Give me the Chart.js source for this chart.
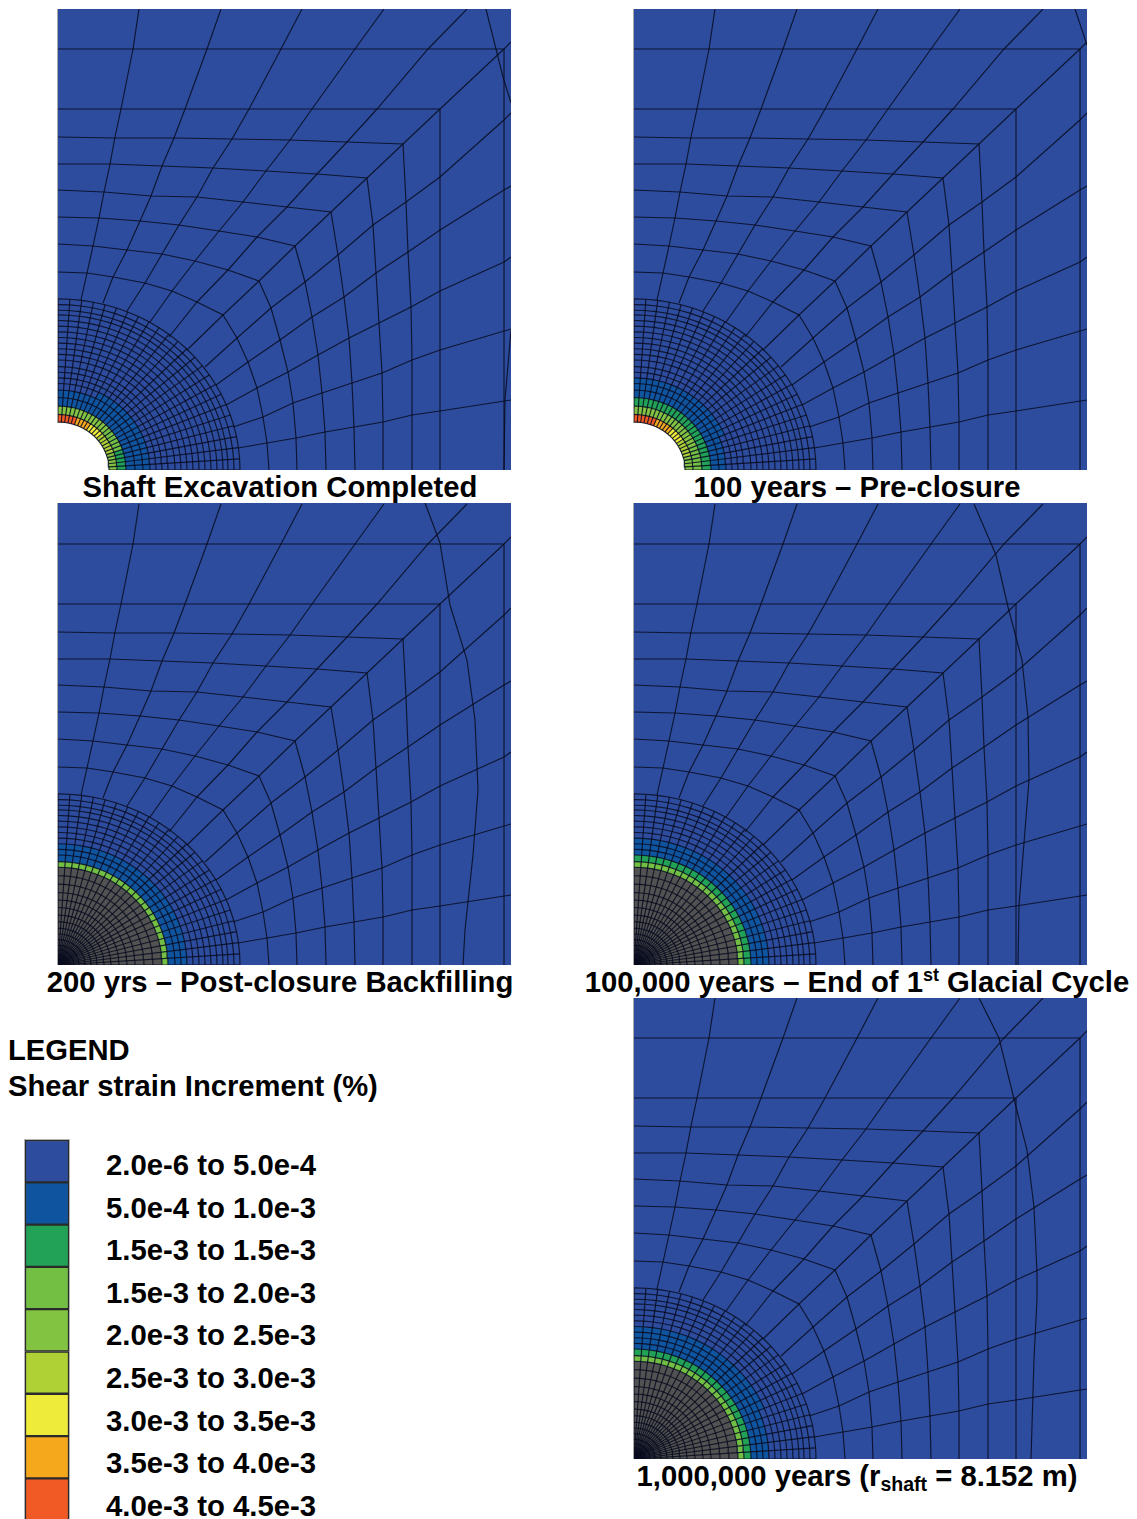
<!DOCTYPE html>
<html>
<head>
<meta charset="utf-8">
<title>Shear strain increment</title>
<script src="https://cdn.jsdelivr.net/npm/chart.js@4"></script>
<style>
    html, body { margin: 0; padding: 0; background: #fff; }
    body { position: relative; width: 1137px; height: 1519px; overflow: hidden; font-family: "Liberation Sans", Arial, sans-serif; font-weight: bold; color: #000; }
    .panel { position: absolute; width: 453px; background: #2d4c9e; border-left: 1px solid #a8a8a8; margin-left: -1px; }
    .panel canvas, #legendBar { display: block; }
    .holeEdge { position: absolute; left: -1px; bottom: 0; width: 1px; height: 47px; background: #fff; }
    .title { position: absolute; white-space: nowrap; font-size: 29.25px; line-height: 32px; transform: translateX(-50%); }
    .title sup { font-size: 18px; line-height: 0; vertical-align: 11px; }
    .title sub { font-size: 19.5px; line-height: 0; vertical-align: -5px; }
    .legendText { position: absolute; left: 8px; white-space: nowrap; font-size: 29.2px; line-height: 34px; }
    .legendLabel { position: absolute; left: 106px; white-space: nowrap; font-size: 29.3px; line-height: 34px; }
    #legendBar { position: absolute; left: 25px; top: 1140px; box-shadow: 0 0 0 1px #b5b5b5; }
</style>
</head>
<body>
<script>
    // legend
    const legendLabels = ["2.0e-6 to 5.0e-4", "5.0e-4 to 1.0e-3", "1.5e-3 to 1.5e-3", "1.5e-3 to 2.0e-3", "2.0e-3 to 2.5e-3", "2.5e-3 to 3.0e-3", "3.0e-3 to 3.5e-3", "3.5e-3 to 4.0e-3", "4.0e-3 to 4.5e-3"];
    const binColors = ["#2d4c9e", "#0f549f", "#21a256", "#72bf44", "#82c341", "#afd136", "#efeb3a", "#f5a81c", "#f15a24"];
    const legendSpans = [1, 1, 1, 1, 1, 1, 1, 1, 1];

    // fine mesh around the shaft, in panel pixels along x; y is squeezed by yRatio
    const yRatio = 0.94;
    const spokeAngles = [0, 3.75, 7.5, 11.25, 15, 18.75, 22.5, 26.25, 30, 33.75, 37.5, 41.25, 45, 48.75, 52.5, 56.25, 60, 63.75, 67.5, 71.25, 75, 78.75, 82.5, 86.25, 90];
    const outerRings = [104, 110, 117, 123, 129, 135, 141, 147, 153, 159, 165, 170, 176, 182];
    const openRings = [51, 59, 68, 77, 85, 92, 98];
    const backfillRings = [3, 7, 11, 16, 21, 27, 33, 39, 46, 53, 61, 69, 77, 86, 95];

    // coarse mesh polylines, [x, y]
    const coarseRings = [
        [[0, 198], [29, 197], [55, 193], [87, 187], [114, 179], [139, 168], [165, 155], [179, 132], [190, 108], [199, 82], [205, 53], [209, 27], [211, 0]],
        [[0, 226], [35, 224], [69, 220], [104, 216], [137, 209], [170, 200], [201, 189], [213, 162], [222, 130], [230, 98], [235, 67], [238, 32], [239, 0]],
        [[0, 253], [41, 252], [82, 249], [121, 245], [161, 239], [199, 233], [237, 224], [247, 188], [254, 153], [260, 115], [264, 77], [267, 38], [268, 0]],
        [[0, 280], [46, 278], [93, 274], [139, 273], [185, 268], [229, 263], [273, 258], [280, 215], [286, 173], [291, 132], [294, 87], [296, 43], [297, 0]],
        [[0, 306], [52, 306], [104, 304], [155, 302], [208, 299], [259, 296], [309, 292], [315, 245], [318, 197], [321, 147], [324, 97], [325, 48], [325, 0]],
        [[0, 333], [57, 332], [116, 332], [174, 331], [232, 330], [289, 328], [345, 326], [348, 268], [350, 218], [353, 163], [354, 110], [354, 55], [354, 0]],
        [[0, 361], [382, 361], [382, 0]],
        [[0, 421], [446, 421], [446, 0]]
    ];
    const coarseSpokes = [
        [[81, 461], [75, 421], [63, 361], [57, 333], [52, 306], [46, 278], [41, 252], [35, 224], [29, 197], [23, 170]],
        [[163, 461], [149, 421], [127, 361], [116, 332], [104, 304], [93, 274], [82, 249], [69, 220], [55, 193], [45, 167]],
        [[244, 461], [223, 421], [191, 361], [174, 331], [155, 302], [139, 273], [121, 245], [104, 216], [87, 187], [69, 159]],
        [[326, 461], [297, 421], [254, 361], [232, 330], [208, 299], [185, 268], [161, 239], [137, 209], [114, 179], [92, 148]],
        [[409, 461], [370, 421], [319, 361], [289, 328], [259, 296], [229, 263], [199, 233], [170, 200], [139, 168], [111, 133]],
        [[453, 428], [446, 421], [382, 361], [345, 326], [309, 292], [273, 258], [237, 224], [201, 189], [165, 155], [129, 120]],
        [[453, 357], [446, 350], [382, 293], [348, 268], [315, 245], [280, 215], [247, 188], [213, 162], [179, 132], [147, 103]],
        [[453, 284], [446, 280], [382, 240], [350, 218], [318, 197], [286, 173], [254, 153], [222, 130], [190, 108], [158, 85]],
        [[453, 213], [446, 208], [382, 179], [353, 163], [321, 147], [291, 132], [260, 115], [230, 98], [199, 82], [168, 65]],
        [[453, 141], [382, 120], [354, 110], [324, 97], [294, 87], [264, 77], [235, 67], [205, 53], [175, 43]],
        [[453, 70], [382, 59], [354, 55], [325, 48], [296, 43], [267, 38], [238, 32], [209, 27], [180, 22]]
    ];

    // the line that moves from stage to stage
    const excavationBends = [[[428, 461], [445, 393], [453, 367]], [[453, 140], [447, 70], [446, 0]]];
    const preClosureBends = [[[441, 461], [453, 425]]];
    const backfillBends = [[[367, 462], [382, 422], [392, 360], [409, 305], [417, 245], [420, 175], [415, 110], [407, 35], [405, 0]]];
    const glacialBends = [[[340, 461], [362, 410], [374, 358], [388, 305], [394, 248], [395, 185], [390, 122], [385, 60], [384, 0]]];
    const millionBends = [[[345, 461], [365, 421], [380, 360], [393, 309], [400, 252], [403, 186], [403, 160], [400, 100], [397, 0]]];

    // colour bin of each cell, ring by ring from the inside, spoke 0 on the x axis
    const excavationBins = [
        [4, 4, 4, 4, 4, 5, 5, 5, 5, 5, 5, 6, 6, 6, 6, 7, 7, 7, 7, 8, 8, 8, 8, 8],
        [2, 2, 2, 2, 2, 3, 3, 3, 3, 3, 3, 4, 4, 4, 4, 4, 4, 4, 4, 4, 4, 4, 4, 4],
        [1, 1, 1, 1, 1, 1, 1, 1, 1, 1, 1, 1, 1, 1, 1, 1, 1, 1, 1, 1, 1, 1, 1, 1],
        [1, 1, 1, 1, 1, 1, 1, 1, 1, 1, 1, 1, 1, 1, 1, 1, 1, 1, 1, 1, 1, 1, 1, 1],
        [1, 1, 1, 1, 1, 1, 1, 1, 1, 1, 1, 1, 1, 1, 1, 1, 1, 0, 0, 0, 0, 0, 0, 0]
    ];
    const preClosureBins = [
        [4, 4, 4, 4, 5, 5, 5, 5, 5, 6, 6, 6, 6, 7, 7, 7, 7, 7, 8, 8, 8, 8, 8, 8],
        [3, 3, 3, 3, 3, 3, 4, 4, 4, 4, 4, 4, 4, 4, 4, 4, 4, 4, 4, 4, 4, 4, 4, 4],
        [2, 2, 2, 2, 2, 2, 2, 2, 2, 2, 2, 2, 2, 2, 2, 2, 2, 2, 2, 2, 2, 2, 2, 2],
        [1, 1, 1, 1, 1, 1, 1, 1, 1, 1, 1, 1, 1, 1, 1, 1, 1, 1, 1, 1, 1, 1, 1, 1],
        [1, 1, 1, 1, 1, 1, 1, 1, 1, 1, 1, 1, 1, 1, 1, 1, 1, 1, 1, 1, 1, 1, 1, 1],
        [0, 0, 0, 0, 0, 0, 1, 1, 1, 1, 1, 1, 1, 1, 1, 1, 1, 1, 1, 1, 1, 1, 1, 1]
    ];
    const backfillBins = [
        [3, 3, 3, 3, 3, 3, 3, 3, 3, 3, 3, 3, 3, 3, 3, 3, 3, 3, 3, 3, 3, 3, 3, 3],
        [1, 1, 1, 1, 1, 1, 1, 1, 1, 1, 1, 1, 1, 1, 1, 1, 1, 1, 1, 1, 1, 1, 1, 1],
        [1, 1, 1, 1, 1, 1, 1, 1, 1, 1, 1, 1, 1, 1, 1, 1, 1, 1, 1, 1, 1, 1, 1, 1],
        [1, 1, 1, 1, 1, 1, 1, 1, 1, 1, 1, 1, 1, 1, 1, 1, 1, 1, 1, 1, 1, 1, 1, 1]
    ];
    const glacialBins = [
        [3, 3, 3, 3, 3, 3, 3, 3, 3, 3, 3, 3, 3, 3, 3, 3, 3, 3, 3, 3, 3, 3, 3, 3],
        [2, 2, 2, 2, 2, 2, 2, 2, 2, 2, 2, 2, 2, 2, 2, 2, 2, 2, 2, 2, 2, 2, 2, 2],
        [1, 1, 1, 1, 1, 1, 1, 1, 1, 1, 1, 1, 1, 1, 1, 1, 1, 1, 1, 1, 1, 1, 1, 1],
        [1, 1, 1, 1, 1, 1, 1, 1, 1, 1, 1, 1, 1, 1, 1, 1, 1, 1, 1, 1, 1, 1, 1, 1],
        [1, 1, 1, 1, 1, 1, 1, 1, 1, 1, 1, 1, 1, 1, 1, 1, 1, 1, 1, 1, 1, 1, 1, 1]
    ];
    const millionBins = [
        [3, 3, 3, 3, 3, 3, 3, 3, 3, 3, 3, 3, 3, 3, 3, 3, 3, 3, 3, 3, 3, 3, 3, 3],
        [2, 2, 2, 2, 2, 2, 2, 2, 2, 2, 2, 2, 2, 2, 2, 2, 2, 2, 2, 2, 2, 2, 2, 2],
        [1, 1, 1, 1, 1, 1, 1, 1, 1, 1, 1, 1, 1, 1, 1, 1, 1, 1, 1, 1, 1, 1, 1, 1],
        [1, 1, 1, 1, 1, 1, 1, 1, 1, 1, 1, 1, 1, 1, 1, 1, 1, 1, 1, 1, 1, 1, 1, 1],
        [1, 1, 1, 1, 1, 1, 1, 1, 1, 1, 1, 1, 1, 1, 1, 1, 1, 1, 1, 1, 1, 1, 1, 1],
        [0, 0, 0, 0, 0, 0, 1, 1, 1, 1, 1, 1, 1, 1, 1, 1, 1, 1, 1, 1, 1, 1, 1, 1]
    ];

    const panels = [
        { left: 58, top: 9, height: 461, backfilled: false, bins: excavationBins, bends: excavationBends },
        { left: 634, top: 9, height: 461, backfilled: false, bins: preClosureBins, bends: preClosureBends },
        { left: 58, top: 503, height: 462, backfilled: true, bins: backfillBins, bends: backfillBends },
        { left: 634, top: 503, height: 462, backfilled: true, bins: glacialBins, bends: glacialBends },
        { left: 634, top: 998, height: 461, backfilled: true, bins: millionBins, bends: millionBends }
    ];

    const titles = [
        { x: 280, y: 471, html: "Shaft Excavation Completed" },
        { x: 857, y: 471, html: "100 years – Pre-closure" },
        { x: 280, y: 966, html: "200 yrs – Post-closure Backfilling" },
        { x: 857, y: 966, html: "100,000 years – End of 1<sup>st</sup> Glacial Cycle" },
        { x: 857, y: 1460, html: "1,000,000 years (r<sub>shaft</sub> = 8.152 m)" }
    ];

    const meshColor = "rgba(8, 12, 30, 0.85)";

    function polar(r, angle) {
        let a = angle * Math.PI / 180;
        return { x: r * Math.cos(a), y: r * Math.sin(a) * yRatio };
    }

    function toPoints(pairs) {
        return pairs.map(function (p) { return { x: p[0], y: p[1] }; });
    }

    function lineSet(points, order) {
        return { data: points, showLine: true, fill: false, borderColor: meshColor, borderWidth: 1.15, pointRadius: 0, tension: 0, order: order };
    }

    function shapeSet(points, color, order) {
        return { data: points, showLine: true, fill: "shape", backgroundColor: color, borderColor: color, borderWidth: 0, pointRadius: 0, tension: 0, order: order };
    }

    function buildDatasets(panel) {
        let sets = [];
        let rings = panel.backfilled ? outerRings : openRings.concat(outerRings);
        let innerEdge = rings[0];

        // shaft: white hole before backfilling, grey material after
        let disc = [{ x: 0, y: 0 }];
        spokeAngles.forEach(function (angle) { disc.push(polar(innerEdge, angle)); });
        sets.push(shapeSet(disc, panel.backfilled ? "#525252" : "#ffffff", 3));

        panel.bins.forEach(function (ringBins, i) {
            ringBins.forEach(function (bin, j) {
                if (bin === 0) return;
                sets.push(shapeSet([
                    polar(rings[i], spokeAngles[j]), polar(rings[i + 1], spokeAngles[j]),
                    polar(rings[i + 1], spokeAngles[j + 1]), polar(rings[i], spokeAngles[j + 1])
                ], binColors[bin], 2));
            });
        });

        let allRings = panel.backfilled ? backfillRings.concat(rings) : rings;
        allRings.forEach(function (r) {
            sets.push(lineSet(spokeAngles.map(function (angle) { return polar(r, angle); }), 1));
        });
        spokeAngles.forEach(function (angle) {
            sets.push(lineSet([polar(panel.backfilled ? 0 : innerEdge, angle), polar(182, angle)], 1));
        });

        coarseRings.concat(coarseSpokes, panel.bends).forEach(function (pairs) {
            sets.push(lineSet(toPoints(pairs), 1));
        });
        return sets;
    }

    panels.forEach(function (panel) {
        let box = document.createElement("div");
        box.className = "panel";
        box.style.left = panel.left + "px";
        box.style.top = panel.top + "px";
        box.style.height = panel.height + "px";
        let canvas = document.createElement("canvas");
        canvas.width = 453;
        canvas.height = panel.height;
        box.appendChild(canvas);
        if (!panel.backfilled) {
            let edge = document.createElement("div");
            edge.className = "holeEdge";
            box.appendChild(edge);
        }
        document.body.appendChild(box);

        new Chart(canvas.getContext("2d"), {
            type: "scatter",
            data: { datasets: buildDatasets(panel) },
            options: {
                responsive: false,
                animation: false,
                layout: { padding: 0 },
                plugins: { legend: { display: false }, tooltip: { enabled: false } },
                scales: {
                    x: { type: "linear", display: false, min: 0, max: 453 },
                    y: { type: "linear", display: false, min: 0, max: panel.height }
                }
            }
        });
    });

    titles.forEach(function (t) {
        let el = document.createElement("div");
        el.className = "title";
        el.style.left = t.x + "px";
        el.style.top = t.y + "px";
        el.innerHTML = t.html;
        document.body.appendChild(el);
    });

    function addLegendText(className, top, text) {
        let el = document.createElement("div");
        el.className = className;
        el.style.top = top + "px";
        el.textContent = text;
        document.body.appendChild(el);
    }

    addLegendText("legendText", 1033, "LEGEND");
    addLegendText("legendText", 1069, "Shear strain Increment (%)");
    legendLabels.forEach(function (label, i) {
        addLegendText("legendLabel", 1148 + i * 42.6, label);
    });

    let barCanvas = document.createElement("canvas");
    barCanvas.id = "legendBar";
    barCanvas.width = 44;
    barCanvas.height = 379;
    document.body.appendChild(barCanvas);

    new Chart(barCanvas.getContext("2d"), {
        type: "bar",
        data: {
            labels: ["bins"],
            datasets: legendSpans.map(function (span, i) {
                return { data: [span], backgroundColor: binColors[i], borderColor: "#2a2a2a", borderWidth: 1.5, borderSkipped: false, barPercentage: 1, categoryPercentage: 1 };
            })
        },
        options: {
            responsive: false,
            animation: false,
            layout: { padding: 0 },
            plugins: { legend: { display: false }, tooltip: { enabled: false } },
            scales: {
                x: { stacked: true, display: false },
                y: { stacked: true, display: false, reverse: true, min: 0, max: 8.96 }
            }
        }
    });
</script>
</body>
</html>
